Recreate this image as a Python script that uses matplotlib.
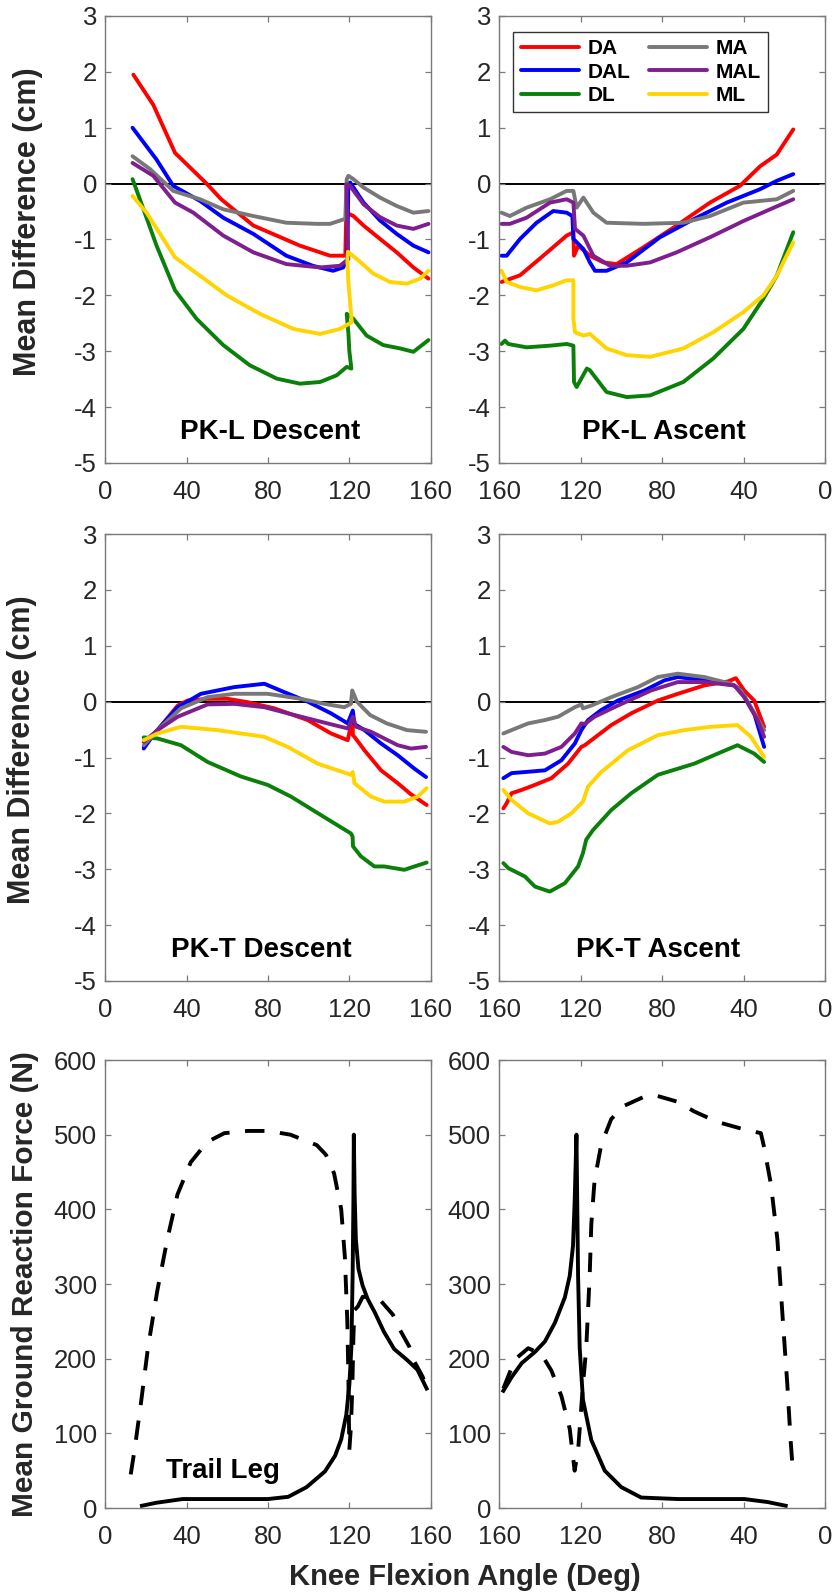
import matplotlib
matplotlib.use("Agg")
import matplotlib.pyplot as plt

plt.rcParams['font.family'] = ['Liberation Sans', 'DejaVu Sans']
plt.rcParams['axes.unicode_minus'] = False

# ---------------------------------------------------------------
# data (knee angle in deg, difference in cm)
# ---------------------------------------------------------------
# PK-L Descent
pkl_d_x = {
    'DA':  [13.8, 23.6, 34.3, 49.8, 57, 72.8, 95.7, 110.5, 118, 118.5, 122, 127, 135.1, 143.3, 151.5, 158.9],
    'DAL': [13.4, 25.2, 33.4, 46.6, 58, 72.8, 89, 102, 112, 117, 119, 119.5, 120.4, 127, 135.1, 143.3, 151.5, 158.9],
    'DL':  [13.4, 17, 25.2, 34.3, 44.9, 58, 71, 84.3, 95.7, 105.6, 113.8, 118.7, 121, 120, 119.5, 118.7, 122, 128.5, 136.7, 145, 151.5, 158.9],
    'MA':  [13.4, 22, 33.4, 46.6, 58, 72.8, 89, 104, 110.5, 118, 118.7, 119.5, 122, 127, 135.1, 143.3, 151.5, 158.9],
    'MAL': [13.4, 23.6, 34.3, 43.3, 58, 72.8, 89, 105.6, 115.4, 119.5, 118.5, 120.3, 127, 135.1, 143.3, 151.5, 158.9],
    'ML':  [13.4, 20.3, 34.3, 46.6, 59.7, 76, 92.5, 105.6, 115.4, 121.2, 120.3, 119.5, 119, 119.3, 123.7, 131.8, 140, 148.3, 154.8, 158.9],
}
pkl_d_y = {
    'DA':  [1.95, 1.41, 0.55, 0.0, -0.28, -0.75, -1.11, -1.29, -1.29, -0.52, -0.58, -0.75, -0.99, -1.23, -1.50, -1.70],
    'DAL': [1.0, 0.43, -0.04, -0.31, -0.61, -0.90, -1.29, -1.47, -1.56, -1.50, -1.35, 0.0, 0.02, -0.34, -0.66, -0.90, -1.11, -1.23],
    'DL':  [0.08, -0.28, -1.11, -1.91, -2.42, -2.89, -3.25, -3.49, -3.58, -3.55, -3.43, -3.28, -3.31, -3.0, -2.66, -2.33, -2.42, -2.72, -2.89, -2.95, -3.01, -2.8],
    'MA':  [0.49, 0.26, -0.13, -0.28, -0.46, -0.58, -0.70, -0.72, -0.72, -0.63, 0.08, 0.14, 0.08, -0.07, -0.25, -0.40, -0.52, -0.49],
    'MAL': [0.37, 0.14, -0.34, -0.52, -0.93, -1.23, -1.44, -1.50, -1.47, -1.35, -0.01, -0.04, -0.37, -0.60, -0.75, -0.81, -0.72],
    'ML':  [-0.22, -0.52, -1.32, -1.65, -2.0, -2.33, -2.6, -2.69, -2.6, -2.48, -2.1, -1.76, -1.34, -1.22, -1.35, -1.61, -1.76, -1.79, -1.70, -1.56],
}

# PK-L Ascent
pkl_a_x = {
    'DA':  [158.9, 149.8, 138.4, 126.9, 123.6, 123.3, 121.2, 115.5, 108.9, 102.4, 89.2, 72.9, 56.5, 41.8, 31.9, 23.7, 15.6],
    'DAL': [158.9, 156.4, 149.8, 141.7, 133.5, 126.9, 124.1, 123.6, 118.7, 115.5, 113, 107.3, 97.4, 81.1, 64.7, 48.3, 31.9, 23.7, 15.6],
    'DL':  [158.9, 157.2, 155.6, 146.6, 135.1, 126.9, 123.6, 123.3, 122, 117, 115.5, 107.3, 97.4, 85.9, 69.6, 54.9, 40.1, 30.3, 23.7, 15.6],
    'MA':  [158.9, 154.8, 146.6, 135.1, 126.9, 123.6, 122, 118.7, 113.8, 107.3, 89.2, 69.6, 56.5, 40.1, 23.7, 15.6],
    'MAL': [158.9, 154.8, 146.6, 135.1, 126.9, 123.6, 122.8, 118.7, 113.8, 105.6, 97.4, 85.9, 72.9, 56.5, 40.1, 27, 15.6],
    'ML':  [158.9, 156.4, 149.8, 141.7, 133.5, 126.9, 123.6, 123.6, 122.8, 118.7, 115.5, 107.3, 97.4, 85.9, 69.6, 54.9, 40.1, 30.3, 23.7, 15.6],
}
pkl_a_y = {
    'DA':  [-1.76, -1.64, -1.29, -0.93, -0.87, -1.29, -1.11, -1.29, -1.41, -1.44, -1.14, -0.75, -0.34, -0.04, 0.31, 0.52, 0.97],
    'DAL': [-1.29, -1.29, -0.99, -0.70, -0.49, -0.52, -0.58, -0.99, -1.17, -1.41, -1.56, -1.56, -1.41, -0.96, -0.64, -0.34, -0.10, 0.05, 0.17],
    'DL':  [-2.87, -2.81, -2.87, -2.93, -2.90, -2.87, -2.90, -3.55, -3.64, -3.31, -3.34, -3.73, -3.82, -3.79, -3.55, -3.13, -2.60, -2.06, -1.65, -0.87],
    'MA':  [-0.52, -0.58, -0.43, -0.28, -0.13, -0.13, -0.43, -0.25, -0.52, -0.70, -0.72, -0.70, -0.58, -0.34, -0.28, -0.13],
    'MAL': [-0.72, -0.72, -0.61, -0.34, -0.28, -0.34, -0.81, -0.93, -1.29, -1.47, -1.47, -1.41, -1.23, -0.96, -0.67, -0.46, -0.28],
    'ML':  [-1.56, -1.76, -1.85, -1.91, -1.82, -1.73, -1.73, -2.42, -2.66, -2.72, -2.69, -2.95, -3.07, -3.10, -2.95, -2.66, -2.30, -2.0, -1.65, -1.05],
}

# PK-T Descent
pkt_d_x = {
    'DA':  [18.9, 25.7, 35.6, 40.5, 50.3, 60.2, 70, 83.1, 99.5, 111, 119.2, 121.7, 121.7, 122.5, 127.4, 135.6, 143.8, 150, 158],
    'DAL': [18.9, 24.1, 35.6, 47, 63.4, 78.2, 88, 99.5, 111, 119.2, 121.7, 122.5, 127.4, 135.6, 143.8, 152, 157.7],
    'DL':  [18.9, 25.7, 37.2, 50.3, 66.7, 79.8, 91.3, 106, 120.8, 121.6, 121.8, 125.7, 132.3, 137.2, 147, 152, 158],
    'MA':  [18.9, 25.7, 37.2, 50.3, 63.4, 79.8, 96.2, 107.7, 117.5, 120.8, 121.4, 123.7, 130.2, 138.4, 148.3, 157.7],
    'MAL': [18.9, 25.7, 35.6, 50.3, 63.4, 78.2, 93, 106, 119.2, 121.7, 123.3, 130.7, 135.6, 143.8, 150.3, 157.7],
    'ML':  [18.9, 25.7, 37.2, 55.2, 78.2, 89.7, 104.4, 120.8, 121.7, 122.5, 130.7, 137.2, 147, 153.6, 158],
}
pkt_d_y = {
    'DA':  [-0.81, -0.51, -0.07, 0.02, 0.05, 0.05, -0.01, -0.12, -0.33, -0.57, -0.69, -0.27, -0.60, -0.63, -0.87, -1.23, -1.46, -1.65, -1.85],
    'DAL': [-0.84, -0.57, -0.10, 0.14, 0.26, 0.32, 0.17, 0.0, -0.21, -0.39, -0.16, -0.40, -0.51, -0.75, -0.96, -1.20, -1.35],
    'DL':  [-0.64, -0.66, -0.78, -1.08, -1.34, -1.49, -1.70, -2.03, -2.36, -2.42, -2.59, -2.77, -2.95, -2.95, -3.01, -2.95, -2.88],
    'MA':  [-0.78, -0.51, -0.12, 0.08, 0.14, 0.14, 0.05, -0.04, -0.10, -0.04, 0.20, 0.0, -0.24, -0.39, -0.51, -0.54],
    'MAL': [-0.72, -0.51, -0.27, -0.05, -0.04, -0.10, -0.24, -0.36, -0.48, -0.27, -0.45, -0.54, -0.63, -0.78, -0.84, -0.81],
    'ML':  [-0.69, -0.57, -0.45, -0.51, -0.63, -0.81, -1.11, -1.31, -1.26, -1.46, -1.70, -1.79, -1.79, -1.70, -1.55],
}

# PK-T Ascent
pkt_a_x = {
    'DA':  [158, 156.4, 154, 149, 142.5, 134.4, 126.2, 119.7, 118, 105, 95.2, 82.1, 72.3, 59.3, 47.8, 43.8, 39.7, 34.8, 29.9],
    'DAL': [158, 154, 147.4, 137.6, 129.5, 122.9, 119.7, 116.4, 109.9, 101.7, 88.7, 78.9, 72.3, 59.3, 44.6, 41.3, 34.8, 29.9],
    'DL':  [158, 155.6, 147.4, 142.5, 135.2, 127.8, 121.3, 118.9, 117.3, 114, 105, 95.2, 82.1, 64.2, 52.7, 43, 34.8, 29.9],
    'MA':  [158, 154, 145.8, 137.6, 131.1, 122.9, 119.7, 118.9, 114.8, 105, 91.9, 82.1, 72.3, 59.3, 46.2, 41.3, 36.4, 29.9],
    'MAL': [158, 154, 145.8, 137.6, 129.5, 122.9, 119.7, 118, 113.2, 101.7, 85.4, 72.3, 59.3, 44.6, 39.7, 33.1, 29.9],
    'ML':  [158, 154, 145.8, 135.2, 131.1, 124.6, 118.9, 116.4, 109.9, 96.8, 82.1, 69.1, 56, 43, 36.4, 29.9],
}
pkt_a_y = {
    'DA':  [-1.91, -1.82, -1.64, -1.58, -1.49, -1.37, -1.11, -0.81, -0.78, -0.42, -0.21, 0.02, 0.14, 0.29, 0.36, 0.42, 0.20, 0.02, -0.45],
    'DAL': [-1.37, -1.28, -1.26, -1.23, -1.05, -0.75, -0.51, -0.33, -0.15, 0.02, 0.20, 0.38, 0.44, 0.38, 0.29, 0.20, -0.21, -0.81],
    'DL':  [-2.89, -2.98, -3.13, -3.31, -3.40, -3.25, -2.95, -2.71, -2.47, -2.30, -1.94, -1.64, -1.31, -1.11, -0.93, -0.78, -0.93, -1.08],
    'MA':  [-0.57, -0.51, -0.39, -0.33, -0.27, -0.10, -0.05, -0.12, -0.07, 0.08, 0.26, 0.44, 0.50, 0.44, 0.32, 0.20, -0.10, -0.51],
    'MAL': [-0.81, -0.90, -0.96, -0.93, -0.81, -0.57, -0.39, -0.40, -0.27, -0.07, 0.20, 0.35, 0.35, 0.29, 0.08, -0.33, -0.63],
    'ML':  [-1.58, -1.76, -2.0, -2.18, -2.15, -2.0, -1.79, -1.52, -1.26, -0.87, -0.60, -0.51, -0.45, -0.42, -0.63, -0.99],
}

# ground reaction force (N), trail leg: solid and dashed curves
grf_d_solid_x = [18, 25, 38, 55, 80, 90, 99, 108, 113, 116, 118.5, 120, 121, 121.6, 122, 122.2, 122.6, 123.2, 124.5,
                 126.5, 129, 132.5, 137, 142, 148.5, 153.5, 158]
grf_d_solid_y = [3, 7, 12, 12, 12, 15, 28, 49, 70, 92, 125, 165, 215, 310, 410, 500, 420, 360, 320,
                 298, 280, 262, 236, 213, 198, 185, 160]
grf_d_dash_x = [12.5, 14.5, 17.5, 21, 25.5, 30.5, 35.5, 42, 50, 58.5, 70, 80, 91, 104, 108.5, 112.5, 116, 117.8,
                119, 119.5, 119.8, 120, 120.8, 121.5, 122, 122.5, 124.2, 126.6, 130, 135.6, 141.4, 145, 149.5,
                152, 156, 158]
grf_d_dash_y = [45, 80, 140, 215, 290, 360, 420, 463, 490, 502, 505, 505, 500, 486, 473, 448, 400, 336,
                250, 180, 116, 78, 110, 165, 230, 265, 270, 283, 282, 277, 259, 238, 216,
                196, 176, 160]

grf_a_solid_x = [158, 154, 149, 142.5, 137.6, 132.7, 127.8, 125.4, 123.8, 123, 122.1, 121.8, 121.3, 120.5, 118.9,
                 114.8, 108.2, 100.1, 90.3, 72.3, 39.7, 28.2, 19.3]
grf_a_solid_y = [157, 175, 194, 209, 223, 248, 282, 311, 351, 409, 500, 430, 311, 214, 145,
                 91, 50, 28, 14, 12, 12, 8, 3]
grf_a_dash_x = [158, 152.3, 145.8, 139.3, 134.4, 129.5, 125.4, 123, 121.3, 118.9, 117.3, 115.6, 114.8, 113.2, 109.9,
                105, 98.4, 88.7, 83.8, 72.3, 64.2, 52.8, 39.7, 31.5, 29.9, 26.6, 23.4, 21, 18.5, 16.9, 15.6]
grf_a_dash_y = [160, 199, 214, 206, 184, 150, 106, 50, 77, 165, 214, 311, 380, 439, 487,
                521, 539, 551, 553, 544, 531, 517, 507, 502, 483, 434, 360, 263, 165, 91, 43]

series = ['DA', 'DAL', 'DL', 'MA', 'MAL', 'ML']
colores = {'DA': '#ff0000', 'DAL': '#0000ff', 'DL': '#0a800a',
           'MA': '#787878', 'MAL': '#7f1f8f', 'ML': '#ffd400'}

W, H = 833, 1593
fig = plt.figure(figsize=(W / 100, H / 100), dpi=100)

cinza = '#7a7a7a'
texto = '#262626'


def eixo(left, top, right, bottom):
    # left/top/right/bottom in pixels
    ax = fig.add_axes([left / W, 1 - bottom / H, (right - left) / W, (bottom - top) / H])
    for s in ax.spines.values():
        s.set_color(cinza)
        s.set_linewidth(1.0)
    ax.tick_params(direction='in', top=True, right=True, length=4.5, width=0.9,
                   color=cinza, labelcolor=texto, labelsize=18.5)
    ax.tick_params(axis='x', pad=12)
    ax.tick_params(axis='y', pad=6)
    return ax


def painel(ax, xs, ys, titulo, tx, invertido):
    ax.axhline(0, color='black', lw=1.4, zorder=1)
    for s in series:
        ax.plot(xs[s], ys[s], color=colores[s], lw=2.8, label=s, zorder=2,
                solid_joinstyle='round', solid_capstyle='round')
    ax.set_ylim(-5, 3)
    ax.set_yticks(range(-5, 4))
    ax.set_xticks([0, 40, 80, 120, 160])
    if invertido:
        ax.set_xlim(160, 0)
    else:
        ax.set_xlim(0, 160)
    ax.text(tx, -4.45, titulo, ha='center', va='center', fontsize=20, fontweight='bold', color='black')


L1, R1 = 105.3, 430.7
L2, R2 = 499.3, 825

ax1 = eixo(L1, 16, R1, 463)
painel(ax1, pkl_d_x, pkl_d_y, 'PK-L Descent', 81, False)
ax2 = eixo(L2, 16, R2, 463)
painel(ax2, pkl_a_x, pkl_a_y, 'PK-L Ascent', 79, True)
ax3 = eixo(L1, 534, R1, 981)
painel(ax3, pkt_d_x, pkt_d_y, 'PK-T Descent', 76.6, False)
ax4 = eixo(L2, 534, R2, 981)
painel(ax4, pkt_a_x, pkt_a_y, 'PK-T Ascent', 82, True)

leg = ax2.legend(ncol=2, loc='upper left', bbox_to_anchor=(0.043, 0.965), borderaxespad=0,
                 prop={'weight': 'bold', 'size': 15}, handlelength=2.8, handletextpad=0.4,
                 columnspacing=0.9, labelspacing=0.22, borderpad=0.35, fancybox=False,
                 framealpha=1)
leg.get_frame().set_edgecolor('#333333')
leg.get_frame().set_linewidth(1.0)
for t in leg.get_texts():
    t.set_color('black')

# forces
ax5 = eixo(L1, 1060, R1, 1508)
ax6 = eixo(L2, 1060, R2, 1508)
ax5.plot(grf_d_solid_x, grf_d_solid_y, color='black', lw=2.8, solid_joinstyle='round')
ax5.plot(grf_d_dash_x, grf_d_dash_y, color='black', lw=2.8, linestyle=(0, (5, 4)))
ax6.plot(grf_a_solid_x, grf_a_solid_y, color='black', lw=2.8, solid_joinstyle='round')
ax6.plot(grf_a_dash_x, grf_a_dash_y, color='black', lw=2.8, linestyle=(0, (5, 4)))
for ax in (ax5, ax6):
    ax.set_ylim(0, 600)
    ax.set_yticks(range(0, 601, 100))
    ax.set_xticks([0, 40, 80, 120, 160])
ax5.set_xlim(0, 160)
ax6.set_xlim(160, 0)
ax5.text(57.6, 50, 'Trail Leg', ha='center', va='center', fontsize=20, fontweight='bold', color='black')

# axis labels
fig.text(28.5 / W, 1 - 222 / H, 'Mean Difference (cm)', rotation=90, ha='center', va='center',
         fontsize=22, fontweight='bold', color=texto)
fig.text(22.5 / W, 1 - 750 / H, 'Mean Difference (cm)', rotation=90, ha='center', va='center',
         fontsize=22, fontweight='bold', color=texto)
fig.text(25 / W, 1 - 1284 / H, 'Mean Ground Reaction Force (N)', rotation=90, ha='center', va='center',
         fontsize=21.5, fontweight='bold', color=texto)
fig.text(465 / W, 1 - 1577 / H, 'Knee Flexion Angle (Deg)', ha='center', va='center',
         fontsize=21, fontweight='bold', color=texto)

fig.savefig('out.png', dpi=100)
